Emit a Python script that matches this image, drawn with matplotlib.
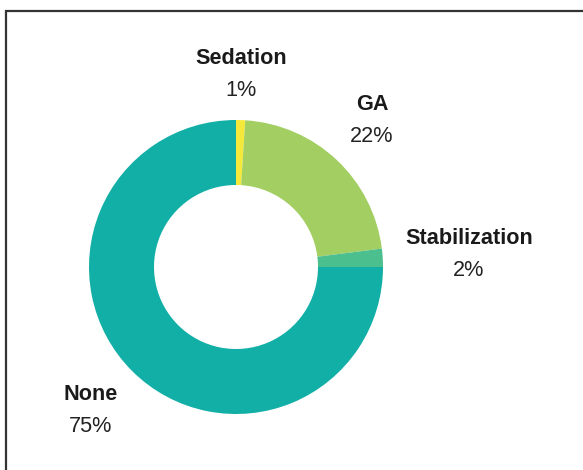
import matplotlib
matplotlib.use("Agg")
import matplotlib.pyplot as plt
from matplotlib.patches import Rectangle

categories = ["Sedation", "GA", "Stabilization", "None"]
values = [1, 22, 2, 75]
pct_labels = ["1%", "22%", "2%", "75%"]
colors = ["#F4E93A", "#A2CE62", "#4CBF8E", "#12AFA6"]

plt.rcParams['font.family'] = ['Liberation Sans', 'DejaVu Sans']

W, H = 583, 470
fig = plt.figure(figsize=(W / 100, H / 100), dpi=100)
ax = fig.add_axes([0, 0, 1, 1])

cx, cy = 236, H - 267
R, r = 147, 82
ax.pie(values, colors=colors, startangle=90, counterclock=False,
       radius=R, center=(cx, cy),
       wedgeprops=dict(width=R - r, edgecolor='none'), frame=True)
ax.set_xlim(0, W)
ax.set_ylim(0, H)
ax.set_aspect('equal')
ax.axis('off')

label_pos = [(241, 58), (372, 104), (469, 238), (91, 394)]
for cat, pl, (x, y) in zip(categories, pct_labels, label_pos):
    ax.text(x, H - y, cat, ha='center', va='center', fontsize=15.6,
            fontweight='bold', color='#1a1a1a')
    ax.text(x, H - y - 32, pl, ha='center', va='center', fontsize=15.6,
            color='#222222')

ax.add_patch(Rectangle((6, -20), 700, H - 11 + 20, fill=False,
                       edgecolor='#333333', linewidth=1.6, clip_on=False))

fig.savefig("out.png", dpi=100)
